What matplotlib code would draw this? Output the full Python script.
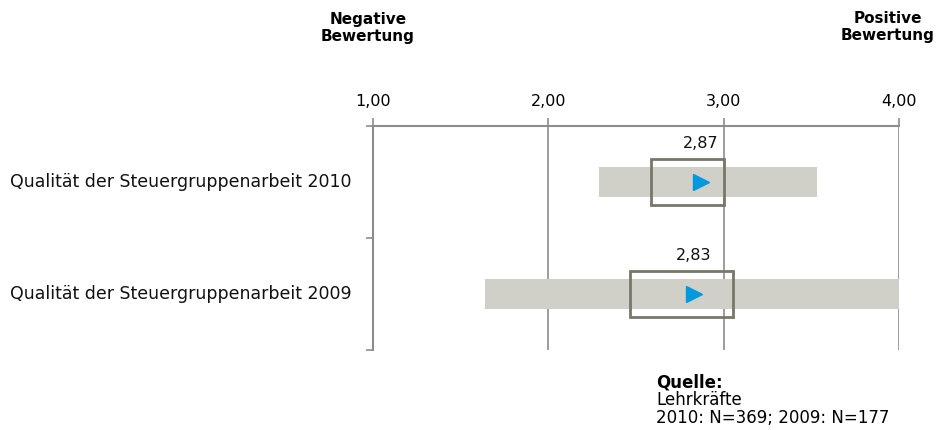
import matplotlib
matplotlib.use("Agg")
import matplotlib.pyplot as plt
from matplotlib.patches import Rectangle

categories = ["Qualität der Steuergruppenarbeit 2009", "Qualität der Steuergruppenarbeit 2010"]
means = [2.83, 2.87]
range_low = [1.64, 2.29]
range_high = [4.00, 3.535]
box_low = [2.465, 2.585]
box_high = [3.055, 3.00]
mean_labels = ["2,83", "2,87"]
xticks = [1.0, 2.0, 3.0, 4.0]
xtick_labels = ["1,00", "2,00", "3,00", "4,00"]

plt.rcParams['font.family'] = ['DejaVu Sans']
fig = plt.figure(figsize=(9.39, 4.30), dpi=100)
ax = fig.add_axes([373/939, 1-350/430, (899-373)/939, (350-126)/430])

axis_col = "#8c8c8c"
bar_col = "#d0d0c8"
box_col = "#77776a"
mark_col = "#0099dd"

ypos = [0.5, 1.5]
bar_h = 0.274
box_h = 0.41
for i, y in enumerate(ypos):
    ax.barh(y, range_high[i] - range_low[i], left=range_low[i], height=bar_h,
            color=bar_col, zorder=2)
    ax.add_patch(Rectangle((box_low[i], y - box_h/2), box_high[i] - box_low[i], box_h,
                           fill=False, edgecolor=box_col, linewidth=2, zorder=4))
    ax.plot(means[i], y, marker='>', markersize=12, color=mark_col, linestyle='none', zorder=5)
    ax.text(means[i], y + box_h/2 + 0.07, mean_labels[i], ha='center', va='bottom',
            fontsize=11.5, color='#111111')

ax.set_xlim(1, 4)
ax.set_ylim(0, 2)
ax.xaxis.tick_top()
ax.set_xticks(xticks)
ax.set_xticklabels(xtick_labels, fontsize=11.5)
ax.set_yticks([0, 1, 2])
ax.set_yticklabels([])
ax.tick_params(axis='x', direction='out', length=6, color=axis_col, width=1.2, pad=6)
ax.tick_params(axis='y', direction='out', length=5, color=axis_col, width=1.2)
for x in xticks[1:]:
    ax.axvline(x, color=axis_col, linewidth=1.2, zorder=1)
for s in ['right', 'bottom']:
    ax.spines[s].set_visible(False)
for s in ['top', 'left']:
    ax.spines[s].set_color(axis_col)
    ax.spines[s].set_linewidth(1.5)

for i, y in enumerate(ypos):
    ax.text(-0.04, y/2, categories[i], transform=ax.transAxes, ha='right', va='center',
            fontsize=12.5, color='#111111')

fig.text(368/939, 1-28/430, "Negative\nBewertung", ha='center', va='center',
         fontsize=11, fontweight='bold', linespacing=1.2)
fig.text(888/939, 1-27/430, "Positive\nBewertung", ha='center', va='center',
         fontsize=11, fontweight='bold', linespacing=1.2)

fig.text(656/939, 1-382/430, "Quelle:", ha='left', va='center', fontsize=12, fontweight='bold')
fig.text(656/939, 1-400/430, "Lehrkräfte", ha='left', va='center', fontsize=12)
fig.text(656/939, 1-418/430, "2010: N=369; 2009: N=177", ha='left', va='center', fontsize=12)

fig.savefig("out.png", dpi=100)
